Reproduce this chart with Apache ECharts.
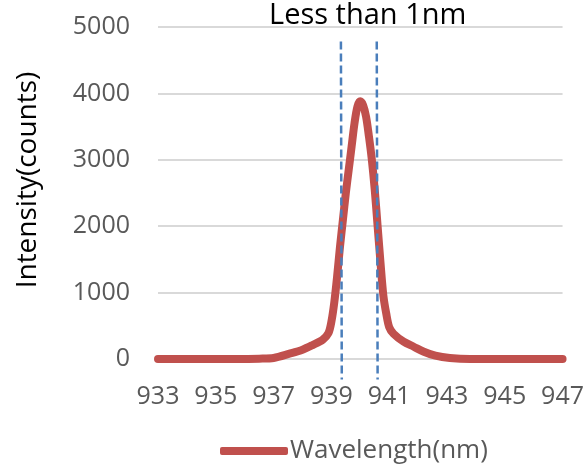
<!DOCTYPE html>
<html>
<head>
<meta charset="utf-8">
<script src="https://cdn.jsdelivr.net/npm/echarts@6/dist/echarts.min.js"></script>
<style>
html,body{margin:0;padding:0;background:#fff;}
#chart{width:587px;height:464px;}
</style>
</head>
<body>
<div id="chart"></div>
<script>
// Data
var wavelength = [933, 934, 935, 935.8, 936.5, 937.0, 937.55, 938.0, 938.35, 938.7, 938.9, 939.0, 939.1, 939.2, 939.3, 939.4, 939.5, 939.6, 939.7, 939.8, 939.9, 940.0, 940.1, 940.2, 940.3, 940.4, 940.5, 940.6, 940.7, 940.8, 940.9, 941.0, 941.15, 941.5, 941.85, 942.2, 942.6, 943.1, 943.8, 944, 945, 946, 947];
var intensity  = [0, 0, 0, 0, 5, 15, 80, 140, 210, 290, 390, 560, 850, 1250, 1700, 2100, 2500, 2850, 3200, 3550, 3800, 3880, 3820, 3650, 3350, 3000, 2550, 2000, 1450, 950, 680, 480, 380, 260, 185, 110, 50, 15, 0, 0, 0, 0, 0];
var markerLeftX  = [939.33, 939.36];
var markerRightX = [940.57, 940.6];
var markerY = [4780, -310];
var xTicks = [933, 935, 937, 939, 941, 943, 945, 947];
var yTicks = [0, 1000, 2000, 3000, 4000, 5000];
var titleText = 'Less than 1nm';
var yName = 'Intensity(counts)';
var seriesName = 'Wavelength(nm)';

var mainData = wavelength.map(function (w, i) { return [w, intensity[i]]; });
var leftLine = markerY.map(function (v, i) { return [markerLeftX[i], v]; });
var rightLine = markerY.map(function (v, i) { return [markerRightX[i], v]; });

var FONT = 'Open Sans';
var chart = echarts.init(document.getElementById('chart'), null, {renderer: 'canvas'});
chart.setOption({
  animation: false,
  backgroundColor: '#fff',
  title: {
    text: titleText,
    left: 269,
    top: 1,
    padding: 0,
    textStyle: {fontFamily: FONT, fontSize: 29, fontWeight: 'normal', color: '#000'}
  },
  graphic: [{
    type: 'text',
    x: 28,
    y: 180,
    rotation: Math.PI / 2,
    style: {
      text: yName,
      fontFamily: FONT,
      fontSize: 28,
      fill: '#000',
      textAlign: 'center',
      textVerticalAlign: 'middle'
    }
  }],
  legend: {
    data: [seriesName],
    left: 220,
    top: 438,
    padding: 0,
    icon: 'roundRect',
    itemWidth: 68,
    itemHeight: 8,
    itemGap: 0,
    textStyle: {fontFamily: FONT, fontSize: 26, color: '#595959', padding: [0, 0, 0, -3]}
  },
  grid: {left: 158, right: 24, top: 27, bottom: 105, containLabel: false},
  xAxis: {
    type: 'value',
    min: xTicks[0],
    max: xTicks[xTicks.length - 1],
    interval: 2,
    axisLine: {show: false},
    axisTick: {show: false},
    splitLine: {show: false},
    axisLabel: {
      fontFamily: FONT, fontSize: 25, color: '#595959', margin: 25,
      formatter: function (v) { return xTicks.indexOf(v) >= 0 ? String(v) : ''; }
    }
  },
  yAxis: {
    type: 'value',
    min: yTicks[0],
    max: yTicks[yTicks.length - 1],
    interval: 1000,
    axisLine: {show: false},
    axisTick: {show: false},
    splitLine: {show: true, lineStyle: {color: '#d9d9d9', width: 2}},
    axisLabel: {
      fontFamily: FONT, fontSize: 25, color: '#595959', margin: 28,
      formatter: function (v) { return String(v); }
    }
  },
  series: [
    {
      name: seriesName,
      type: 'line',
      data: mainData,
      symbol: 'none',
      smooth: 0.3,
      lineStyle: {color: '#C0504D', width: 8, cap: 'round', join: 'round'},
      itemStyle: {color: '#C0504D'},
      z: 2
    },
    {
      name: 'left-marker',
      type: 'line',
      data: leftLine,
      symbol: 'none',
      clip: false,
      silent: true,
      lineStyle: {color: '#4A7EBB', width: 2.5, type: [8, 4]},
      z: 3
    },
    {
      name: 'right-marker',
      type: 'line',
      data: rightLine,
      symbol: 'none',
      clip: false,
      silent: true,
      lineStyle: {color: '#4A7EBB', width: 2.5, type: [8, 4]},
      z: 3
    }
  ]
});
</script>
</body>
</html>
